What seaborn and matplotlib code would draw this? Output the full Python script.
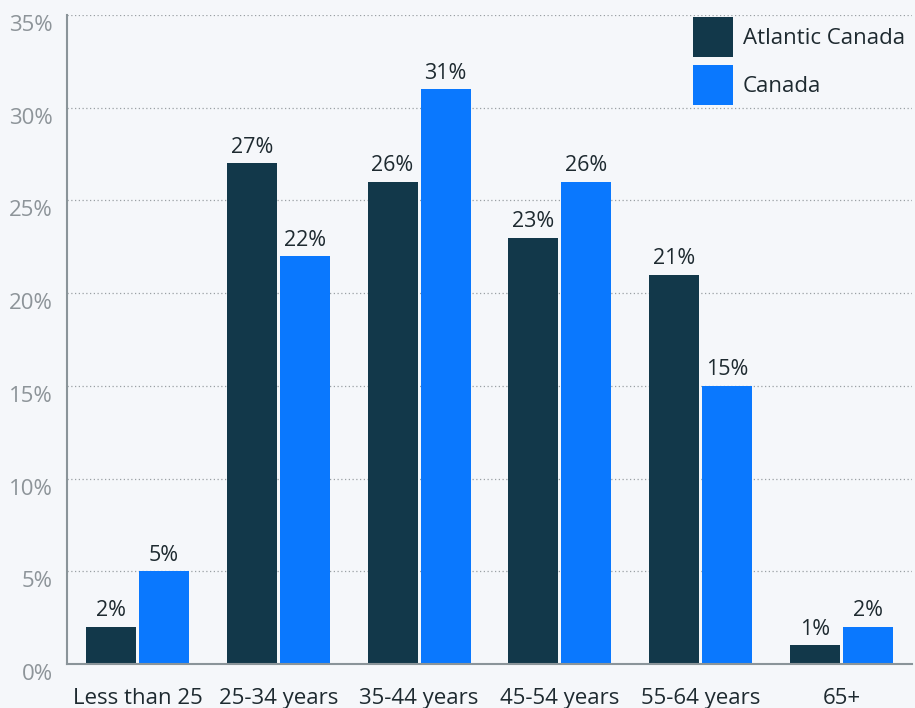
import matplotlib
matplotlib.use("Agg")
import matplotlib.pyplot as plt
import matplotlib.transforms as mtransforms
import seaborn as sns
import pandas as pd

categories = ["Less than 25", "25-34 years", "35-44 years", "45-54 years", "55-64 years", "65+"]
atlantic = [2, 27, 26, 23, 21, 1]
canada = [5, 22, 31, 26, 15, 2]
series_names = ["Atlantic Canada", "Canada"]
y_ticks = [0, 5, 10, 15, 20, 25, 30, 35]

df = pd.DataFrame({
    "group": categories * 2,
    "value": atlantic + canada,
    "series": [series_names[0]] * len(categories) + [series_names[1]] * len(categories),
})

bg = "#f5f7fa"
dark = "#12384a"
blue = "#0a78fe"
text_dark = "#1e2a30"

sns.set_theme(style="white")
plt.rcParams["font.family"] = ["Open Sans", "DejaVu Sans"]

fig = plt.figure(figsize=(9.15, 7.08), dpi=100, facecolor=bg)
ax = fig.add_axes([67 / 915, 1 - 664 / 708, (912 - 67) / 915, (664 - 15) / 708])
ax.set_facecolor(bg)

sns.barplot(data=df, x="group", y="value", hue="series", order=categories,
            hue_order=series_names, palette=[dark, blue], width=0.753, gap=0.057,
            saturation=1, linewidth=0, ax=ax, legend=True)

for container in ax.containers:
    ax.bar_label(container, labels=[f"{v:g}%" for v in container.datavalues],
                 padding=4, fontsize=15.5, color=text_dark)

ax.set_xlim(-0.5, 5.5)
ax.set_ylim(0, 35)
ax.set_yticks(y_ticks)
ax.set_yticklabels([f"{t}%" for t in y_ticks], fontsize=16, color="#8d9499")
ax.tick_params(axis="y", length=0, pad=10)
ax.tick_params(axis="x", length=0, pad=17, labelsize=16, labelcolor=text_dark)
offset = mtransforms.ScaledTranslation(0, -8 / 100, fig.dpi_scale_trans)
for lbl in ax.get_yticklabels():
    lbl.set_transform(lbl.get_transform() + offset)

ax.set_xlabel("")
ax.set_ylabel("")
ax.yaxis.grid(True, linestyle=(0, (1, 2)), color="#9aa0a4", linewidth=0.9)
ax.set_axisbelow(True)
for side in ["top", "right"]:
    ax.spines[side].set_visible(False)
for side in ["left", "bottom"]:
    ax.spines[side].set_color("#8a9499")
    ax.spines[side].set_linewidth(1.5)

leg = ax.legend(loc="upper left", bbox_to_anchor=(693 / 915, 1 - 17 / 708),
                bbox_transform=fig.transFigure, frameon=False, fontsize=16,
                handlelength=1.8, handleheight=2.39, labelspacing=0.36,
                handletextpad=0.45, borderpad=0, borderaxespad=0)
for t in leg.get_texts():
    t.set_color(text_dark)

fig.savefig("out.png", dpi=100, facecolor=bg)
